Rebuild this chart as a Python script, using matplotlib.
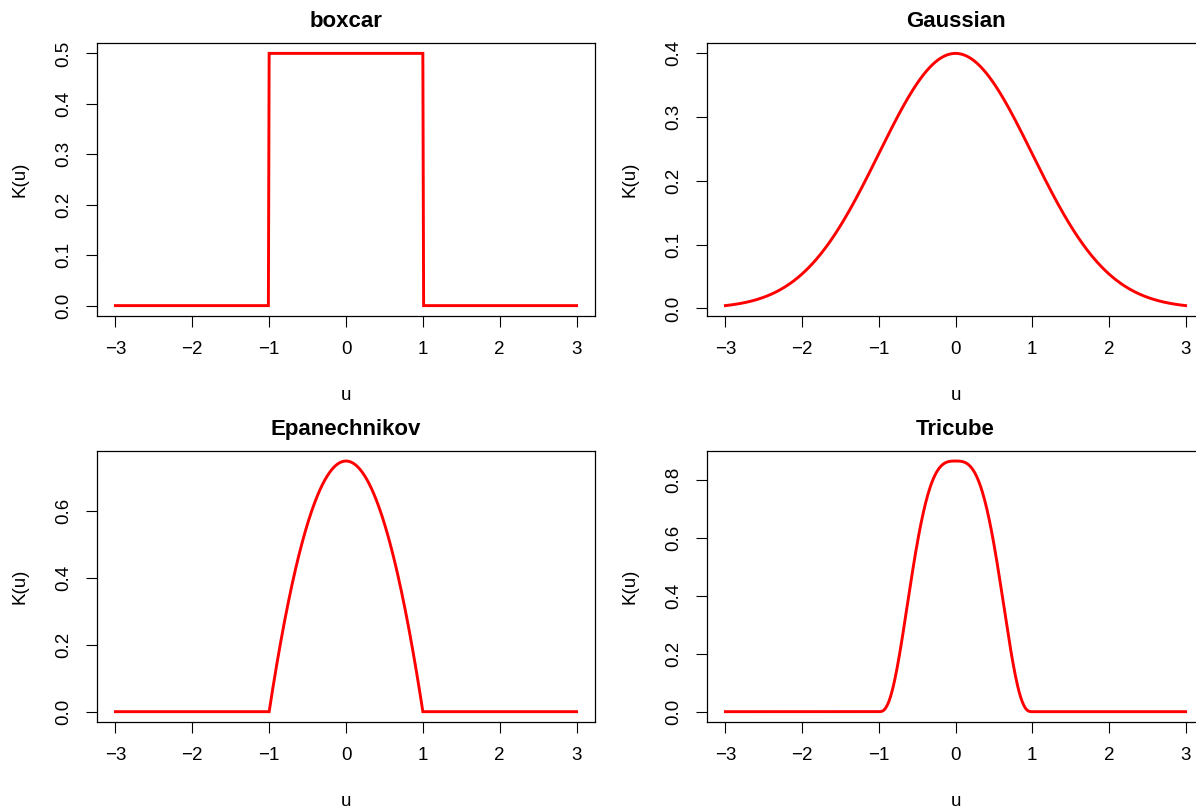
import numpy as np
import matplotlib
matplotlib.use("Agg")
import matplotlib.pyplot as plt

plt.rcParams['font.family'] = ['Liberation Sans', 'DejaVu Sans']

# Evaluation grid and kernel names
u = np.linspace(-3, 3, 601)
titles = ["boxcar", "Gaussian", "Epanechnikov", "Tricube"]

inside = np.abs(u) <= 1 + 1e-9
k_boxcar = np.where(inside, 0.5, 0.0)
k_gauss = np.exp(-u ** 2 / 2) / np.sqrt(2 * np.pi)
k_epan = np.where(inside, 0.75 * (1 - u ** 2), 0.0)
k_tricube = np.where(inside, 70 / 81 * (1 - np.clip(np.abs(u), 0, 1) ** 3) ** 3, 0.0)
kernels = [k_boxcar, k_gauss, k_epan, k_tricube]

x_ticks = [-3, -2, -1, 0, 1, 2, 3]
y_ticks = [
    [0.0, 0.1, 0.2, 0.3, 0.4, 0.5],
    [0.0, 0.1, 0.2, 0.3, 0.4],
    [0.0, 0.2, 0.4, 0.6],
    [0.0, 0.2, 0.4, 0.6, 0.8],
]

W, H = 1196, 808
fig = plt.figure(figsize=(W / 100, H / 100), dpi=100)

# panel boxes in pixels: left, top, right, bottom
boxes = [
    (97, 43.3, 595, 315.7),
    (707, 43.3, 1204, 315.7),
    (97, 451, 595, 721.7),
    (707, 451, 1204, 721.7),
]

FS = 13.5
for i, (x0, y0, x1, y1) in enumerate(boxes):
    ax = fig.add_axes([x0 / W, (H - y1) / H, (x1 - x0) / W, (y1 - y0) / H])
    y = kernels[i]
    ax.plot(u, y, color="red", lw=2.1, solid_joinstyle="miter")
    # R-style 4% padding on both axes
    xr = u.max() - u.min()
    ax.set_xlim(u.min() - 0.04 * xr, u.max() + 0.04 * xr)
    yr = y.max() - y.min()
    ax.set_ylim(y.min() - 0.04 * yr, y.max() + 0.04 * yr)
    ax.set_xticks(x_ticks)
    ax.set_xticklabels(["\u22123", "\u22122", "\u22121", "0", "1", "2", "3"])
    ax.set_yticks(y_ticks[i])
    ax.set_yticklabels([f"{v:.1f}" for v in y_ticks[i]], rotation=90, va="center")
    ax.tick_params(direction="out", length=8, width=0.8, labelsize=FS, pad=10)
    for s in ax.spines.values():
        s.set_linewidth(0.9)
    ph = y1 - y0
    ax.text(0.5, 1 + 21.5 / ph, titles[i], transform=ax.transAxes, ha="center",
            va="center", fontsize=16, fontweight="bold")
    ax.set_xlabel("u", fontsize=FS, va="center")
    ax.xaxis.set_label_coords(0.5, -80 / ph)
    ax.set_ylabel("K(u)", fontsize=FS, va="center")
    ax.yaxis.set_label_coords(-77 / (x1 - x0), 0.5)

fig.savefig("out.png", dpi=100)
